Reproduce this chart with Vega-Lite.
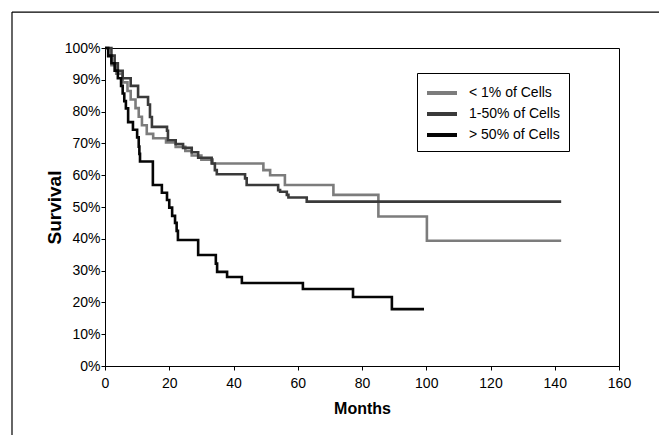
{
  "$schema": "https://vega.github.io/schema/vega-lite/v6.json",
  "width": 514,
  "height": 318,
  "autosize": {"type": "none"},
  "padding": {"left": 105, "top": 48, "right": 40, "bottom": 69},
  "background": "white",
  "config": {
    "font": "Liberation Sans",
    "view": {"stroke": "black", "strokeWidth": 1},
    "axis": {
      "domainColor": "black",
      "tickColor": "black",
      "labelColor": "black",
      "titleColor": "black",
      "labelFont": "Liberation Sans",
      "titleFont": "Liberation Sans",
      "labelFontSize": 14,
      "titleFontWeight": "bold",
      "tickSize": 4,
      "labelFlush": false,
      "grid": false
    }
  },
  "layer": [
    {
      "data": {
        "values": [
          {"group": "< 1% of Cells", "month": 0, "survival": 100},
          {"group": "< 1% of Cells", "month": 1, "survival": 97.3},
          {"group": "< 1% of Cells", "month": 2, "survival": 94.6},
          {"group": "< 1% of Cells", "month": 3.5, "survival": 91.9},
          {"group": "< 1% of Cells", "month": 5.5, "survival": 89.2},
          {"group": "< 1% of Cells", "month": 7, "survival": 86.5},
          {"group": "< 1% of Cells", "month": 8, "survival": 83.8},
          {"group": "< 1% of Cells", "month": 9.5, "survival": 81.1},
          {"group": "< 1% of Cells", "month": 10.5, "survival": 78.4},
          {"group": "< 1% of Cells", "month": 11.5, "survival": 75.7},
          {"group": "< 1% of Cells", "month": 13, "survival": 73},
          {"group": "< 1% of Cells", "month": 15, "survival": 71.6},
          {"group": "< 1% of Cells", "month": 19, "survival": 70.3},
          {"group": "< 1% of Cells", "month": 22, "survival": 68.9},
          {"group": "< 1% of Cells", "month": 25, "survival": 67.6},
          {"group": "< 1% of Cells", "month": 27, "survival": 66.2},
          {"group": "< 1% of Cells", "month": 30, "survival": 64.9},
          {"group": "< 1% of Cells", "month": 33.5, "survival": 63.7},
          {"group": "< 1% of Cells", "month": 49.3, "survival": 61.6},
          {"group": "< 1% of Cells", "month": 51.4, "survival": 60},
          {"group": "< 1% of Cells", "month": 56, "survival": 56.9},
          {"group": "< 1% of Cells", "month": 71.1, "survival": 53.8},
          {"group": "< 1% of Cells", "month": 85.1, "survival": 47},
          {"group": "< 1% of Cells", "month": 100.2, "survival": 39.4},
          {"group": "< 1% of Cells", "month": 142, "survival": 39.4},
          {"group": "1-50% of Cells", "month": 0, "survival": 100},
          {"group": "1-50% of Cells", "month": 2, "survival": 97.6},
          {"group": "1-50% of Cells", "month": 3, "survival": 95.2},
          {"group": "1-50% of Cells", "month": 4, "survival": 92.8},
          {"group": "1-50% of Cells", "month": 5.5, "survival": 90.5},
          {"group": "1-50% of Cells", "month": 8, "survival": 88.1},
          {"group": "1-50% of Cells", "month": 10.3, "survival": 84.6},
          {"group": "1-50% of Cells", "month": 13.4, "survival": 82.2},
          {"group": "1-50% of Cells", "month": 14, "survival": 78.3},
          {"group": "1-50% of Cells", "month": 14.6, "survival": 75.2},
          {"group": "1-50% of Cells", "month": 19.3, "survival": 74},
          {"group": "1-50% of Cells", "month": 19.6, "survival": 71},
          {"group": "1-50% of Cells", "month": 22, "survival": 69.8},
          {"group": "1-50% of Cells", "month": 24.3, "survival": 68.6},
          {"group": "1-50% of Cells", "month": 27, "survival": 67.2},
          {"group": "1-50% of Cells", "month": 29, "survival": 65.5},
          {"group": "1-50% of Cells", "month": 33.2, "survival": 63.7},
          {"group": "1-50% of Cells", "month": 34.2, "survival": 61.6},
          {"group": "1-50% of Cells", "month": 34.8, "survival": 60.3},
          {"group": "1-50% of Cells", "month": 43.6, "survival": 59},
          {"group": "1-50% of Cells", "month": 44.1, "survival": 56.9},
          {"group": "1-50% of Cells", "month": 53.9, "survival": 55.3},
          {"group": "1-50% of Cells", "month": 54.5, "survival": 54.8},
          {"group": "1-50% of Cells", "month": 56.6, "survival": 53.8},
          {"group": "1-50% of Cells", "month": 57.1, "survival": 53},
          {"group": "1-50% of Cells", "month": 62.8, "survival": 51.7},
          {"group": "1-50% of Cells", "month": 142, "survival": 51.7},
          {"group": "> 50% of Cells", "month": 0, "survival": 100},
          {"group": "> 50% of Cells", "month": 1, "survival": 97.6},
          {"group": "> 50% of Cells", "month": 2, "survival": 95.2},
          {"group": "> 50% of Cells", "month": 3, "survival": 92.9},
          {"group": "> 50% of Cells", "month": 4, "survival": 90.5},
          {"group": "> 50% of Cells", "month": 5, "survival": 88.1},
          {"group": "> 50% of Cells", "month": 5.5, "survival": 85.7},
          {"group": "> 50% of Cells", "month": 6, "survival": 83.3},
          {"group": "> 50% of Cells", "month": 6.5, "survival": 81},
          {"group": "> 50% of Cells", "month": 7.2, "survival": 76.7},
          {"group": "> 50% of Cells", "month": 8.7, "survival": 74.3},
          {"group": "> 50% of Cells", "month": 10, "survival": 71.9},
          {"group": "> 50% of Cells", "month": 10.5, "survival": 69},
          {"group": "> 50% of Cells", "month": 10.7, "survival": 66.7},
          {"group": "> 50% of Cells", "month": 10.9, "survival": 64.3},
          {"group": "> 50% of Cells", "month": 14.9, "survival": 56.9},
          {"group": "> 50% of Cells", "month": 17.7, "survival": 54.5},
          {"group": "> 50% of Cells", "month": 19.3, "survival": 52.2},
          {"group": "> 50% of Cells", "month": 20, "survival": 49.8},
          {"group": "> 50% of Cells", "month": 20.9, "survival": 47.2},
          {"group": "> 50% of Cells", "month": 21.8, "survival": 45},
          {"group": "> 50% of Cells", "month": 22.3, "survival": 42.5},
          {"group": "> 50% of Cells", "month": 22.7, "survival": 39.6},
          {"group": "> 50% of Cells", "month": 29, "survival": 34.9},
          {"group": "> 50% of Cells", "month": 34.5, "survival": 32.2},
          {"group": "> 50% of Cells", "month": 34.9, "survival": 29.6},
          {"group": "> 50% of Cells", "month": 38, "survival": 28},
          {"group": "> 50% of Cells", "month": 42.6, "survival": 26.1},
          {"group": "> 50% of Cells", "month": 61.6, "survival": 24.2},
          {"group": "> 50% of Cells", "month": 77.2, "survival": 21.7},
          {"group": "> 50% of Cells", "month": 89.3, "survival": 17.9},
          {"group": "> 50% of Cells", "month": 99.3, "survival": 17.9}
        ]
      },
      "mark": {"type": "line", "interpolate": "step-after", "strokeWidth": 2.6, "clip": false},
      "encoding": {
        "x": {
          "field": "month", "type": "quantitative", "title": "Months",
          "scale": {"domain": [0, 160], "nice": false, "zero": false},
          "axis": {"values": [0, 20, 40, 60, 80, 100, 120, 140, 160], "labelPadding": 6, "titlePadding": 10, "titleFontSize": 16}
        },
        "y": {
          "field": "survival", "type": "quantitative", "title": "Survival",
          "scale": {"domain": [0, 100], "nice": false, "zero": false},
          "axis": {"values": [0, 10, 20, 30, 40, 50, 60, 70, 80, 90, 100], "labelExpr": "datum.value + '%'", "labelPadding": 1, "titlePadding": 0, "titleFontSize": 19, "labelOverlap": false}
        },
        "color": {
          "field": "group", "type": "nominal",
          "scale": {"domain": ["< 1% of Cells", "1-50% of Cells", "> 50% of Cells"], "range": ["#7c7c7c", "#3a3a3a", "#050505"]},
          "legend": {
            "orient": "none", "legendX": 312, "legendY": 25, "title": null,
            "symbolType": "M-1.5,0H1.5", "symbolSize": 400, "symbolStrokeWidth": 4, "symbolOffset": 5,
            "labelOffset": 15, "labelFontSize": 14, "labelColor": "black", "labelFont": "Liberation Sans",
            "strokeColor": "black", "padding": 8, "rowPadding": 1, "fillColor": "white"
          }
        }
      }
    },
    {
      "data": {"values": [{}]},
      "mark": {"type": "rule", "clip": false, "color": "black", "strokeWidth": 1.2},
      "encoding": {
        "x": {
          "datum": -28.95, "type": "quantitative", "title": "Months",
          "scale": {"domain": [0, 160], "nice": false, "zero": false},
          "axis": {"values": [0, 20, 40, 60, 80, 100, 120, 140, 160], "labelPadding": 6, "titlePadding": 10, "titleFontSize": 16}
        },
        "x2": {"datum": 175},
        "y": {
          "datum": 111.3, "type": "quantitative", "title": "Survival",
          "scale": {"domain": [0, 100], "nice": false, "zero": false},
          "axis": {"values": [0, 10, 20, 30, 40, 50, 60, 70, 80, 90, 100], "labelExpr": "datum.value + '%'", "labelPadding": 1, "titlePadding": 0, "titleFontSize": 19, "labelOverlap": false}
        }
      }
    },
    {
      "data": {"values": [{}]},
      "mark": {"type": "rule", "clip": false, "color": "black", "strokeWidth": 1.2},
      "encoding": {
        "x": {
          "datum": -28.95, "type": "quantitative", "title": "Months",
          "scale": {"domain": [0, 160], "nice": false, "zero": false},
          "axis": {"values": [0, 20, 40, 60, 80, 100, 120, 140, 160], "labelPadding": 6, "titlePadding": 10, "titleFontSize": 16}
        },
        "y": {
          "datum": 111.3, "type": "quantitative", "title": "Survival",
          "scale": {"domain": [0, 100], "nice": false, "zero": false},
          "axis": {"values": [0, 10, 20, 30, 40, 50, 60, 70, 80, 90, 100], "labelExpr": "datum.value + '%'", "labelPadding": 1, "titlePadding": 0, "titleFontSize": 19, "labelOverlap": false}
        },
        "y2": {"datum": -25}
      }
    }
  ]
}
